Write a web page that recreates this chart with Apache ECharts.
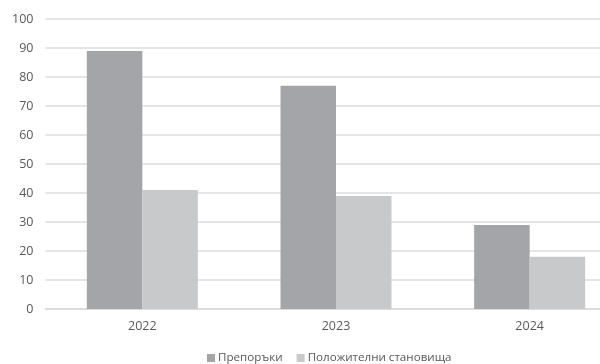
<!DOCTYPE html>
<html>
<head>
<meta charset="utf-8">
<script src="https://cdn.jsdelivr.net/npm/echarts@6/dist/echarts.min.js"></script>
<style>
  html, body { margin: 0; padding: 0; background: #ffffff; }
  #chart { width: 600px; height: 364px; }
</style>
</head>
<body>
<div id="chart"></div>
<script>
const years = ['2022', '2023', '2024'];
const recommendations = [89, 77, 29];
const positiveOpinions = [41, 39, 18];
const seriesNames = ['Препоръки', 'Положителни становища'];
const yTicks = [0, 10, 20, 30, 40, 50, 60, 70, 80, 90, 100];

const font = '"Open Sans", "Noto Sans", sans-serif';
const chart = echarts.init(document.getElementById('chart'), null, { renderer: 'canvas' });

// The plot area runs past the right edge of the canvas, so the last band is cut off.
chart.setOption({
  animation: false,
  backgroundColor: '#ffffff',
  grid: { left: 45.5, width: 581, top: 19, height: 290, containLabel: false, outerBoundsMode: 'none' },
  legend: {
    data: seriesNames,
    top: 347,
    left: 202,
    itemWidth: 8,
    itemHeight: 8,
    itemGap: 14,
    icon: 'rect',
    textStyle: { fontFamily: font, fontSize: 11.6, color: '#595959', padding: [0, 0, 0, -2] }
  },
  xAxis: {
    type: 'category',
    data: years,
    axisLine: { show: true, lineStyle: { color: '#d9d9d9', width: 1.5 } },
    axisTick: { show: false },
    axisLabel: { fontFamily: font, fontSize: 12.5, color: '#595959', margin: 11 }
  },
  yAxis: {
    type: 'value',
    min: yTicks[0],
    max: yTicks[yTicks.length - 1],
    interval: 10,
    axisLine: { show: false },
    axisTick: { show: false },
    splitLine: { lineStyle: { color: '#dcdcdc', width: 1.5 } },
    axisLabel: { fontFamily: font, fontSize: 12.5, color: '#595959', margin: 12 }
  },
  series: [
    {
      name: seriesNames[0],
      type: 'bar',
      data: recommendations,
      barWidth: 55.5,
      barGap: '0%',
      itemStyle: { color: '#a4a5a8' }
    },
    {
      name: seriesNames[1],
      type: 'bar',
      data: positiveOpinions,
      barWidth: 55.5,
      barGap: '0%',
      itemStyle: { color: '#c8c9cb' }
    }
  ]
});
</script>
</body>
</html>
